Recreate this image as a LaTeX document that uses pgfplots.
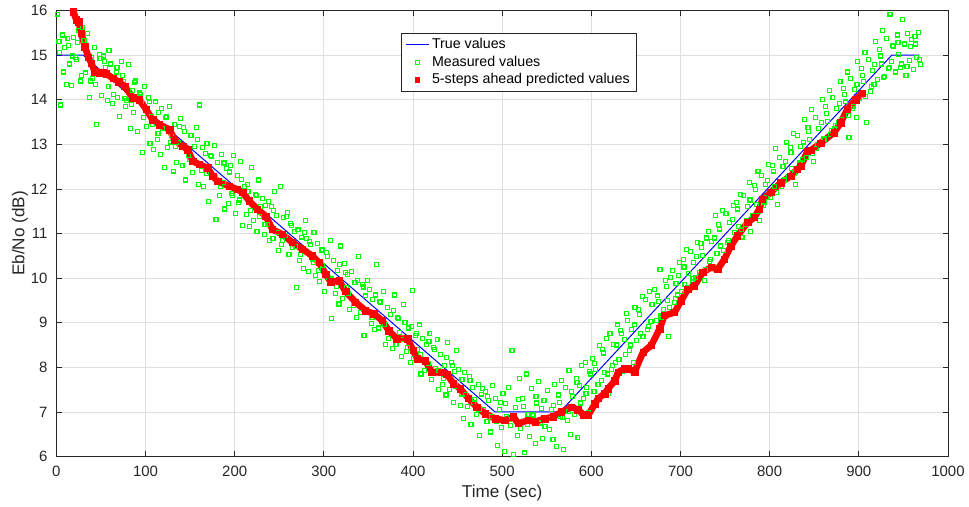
\documentclass[border=0pt]{standalone}
\usepackage{pgfplots}
\pgfplotsset{compat=1.18}
\usepackage{fontspec}
\setmainfont{Liberation Sans}
\definecolor{axgray}{RGB}{38,38,38}
\definecolor{gridgray}{RGB}{223,223,223}
\definecolor{mgreen}{RGB}{0,255,0}
\begin{document}
\begin{tikzpicture}
\begin{axis}[
  scale only axis, width=670.9pt, height=335.6pt,
  xmin=0, xmax=1000, ymin=6, ymax=16,
  xtick={0,100,...,1000}, ytick={6,7,...,16},
  grid=major, major grid style={gridgray, line width=0.5pt},
  axis line style={axgray, line width=0.6pt},
  tick style={axgray, line width=0.6pt},
  tick align=inside, major tick length=4pt,
  ticklabel style={font=\fontsize{11.25}{13}\selectfont, text=axgray},
  /pgf/number format/assume math mode=true,
  /pgf/number format/1000 sep={},
  xticklabel style={yshift=-3.5pt},
  yticklabel style={xshift=-3.2pt},
  xlabel={Time (sec)}, ylabel={Eb/No (dB)},
  label style={font=\fontsize{12.9}{15}\selectfont, text=axgray},
  x label style={at={(axis description cs:0.5,-0.0827)}, anchor=center},
  y label style={at={(axis description cs:-0.0408,0.5)}, anchor=center},
  legend style={at={(0.387,0.95)}, anchor=north west,
    font=\fontsize{10.7}{12}\selectfont, draw=axgray, line width=0.5pt,
    fill=white, text=black},
  legend cell align=left,
]
% True values
\addplot[blue, line width=0.75pt] coordinates {
(0,15) (30,15) (492,7) (565,7) (937,15) (968,15)
};
\addlegendentry{True values}
% Measured values
\addplot[only marks, mark=square, mark size=1.5pt, color=mgreen,
  mark options={draw=mgreen, fill=none, solid, line width=0.85pt}] table {
1 15.92
3 15.30
5 13.88
7 15.45
9 15.18
11 14.35
13 15.38
15 14.80
17 14.32
19 15.40
21 14.95
23 14.90
25 15.55
27 14.42
29 15.62
31 15.32
33 14.60
35 15.48
37 14.05
39 14.95
41 14.48
43 15.18
45 13.45
47 14.62
49 14.93
51 14.10
53 14.98
55 14.72
57 13.98
59 15.10
61 14.80
63 13.92
65 14.45
67 14.62
69 14.05
71 13.62
73 14.85
75 14.40
77 14.02
79 13.98
81 14.78
83 13.35
85 14.20
87 13.72
89 14.42
91 13.28
93 14.15
95 13.95
97 12.82
99 14.30
101 13.40
103 14.05
105 13.02
107 13.62
109 12.88
111 13.95
113 13.10
115 13.72
117 12.78
119 13.35
121 12.48
123 13.60
125 12.92
127 13.85
129 13.20
131 12.40
133 13.45
135 12.60
137 13.05
139 13.58
141 12.52
143 13.38
145 12.20
147 12.88
149 12.65
151 13.20
153 12.36
155 12.95
157 13.38
159 12.10
161 13.88
163 12.42
165 12.05
167 12.80
169 13.02
171 11.72
173 12.75
175 12.30
177 12.98
179 11.32
181 12.60
183 11.85
185 12.78
187 12.15
189 11.55
191 12.45
193 11.68
195 12.52
197 11.90
199 12.75
201 11.45
203 12.30
205 11.75
207 12.62
209 11.18
211 12.05
213 11.42
215 11.95
217 11.15
219 12.48
221 11.30
223 11.88
225 11.05
227 12.20
229 11.60
231 11.78
233 10.98
235 11.62
237 11.20
239 10.85
241 11.60
243 10.88
245 11.95
247 11.40
249 10.62
251 12.05
253 10.75
255 11.35
257 10.95
259 11.48
261 10.52
263 11.22
265 10.68
267 11.05
269 9.78
271 11.08
273 10.40
275 10.92
277 10.22
279 11.30
281 10.88
283 10.15
285 10.75
287 10.42
289 11.02
291 10.05
293 10.78
295 9.92
297 10.62
299 10.28
301 9.70
303 10.58
305 10.02
307 10.85
309 9.10
311 10.40
313 9.65
315 10.18
317 9.42
319 10.72
321 9.55
323 10.32
325 9.78
327 10.08
329 9.30
331 10.15
333 9.38
335 9.90
337 9.12
339 10.48
341 9.22
343 9.85
345 8.72
347 9.60
349 9.95
351 9.75
353 8.98
355 9.52
357 8.85
359 10.30
361 8.88
363 9.48
365 9.05
367 9.70
369 8.52
371 9.35
373 8.65
375 9.18
377 8.42
379 9.62
381 8.52
383 9.12
385 8.78
387 8.25
389 9.40
391 9.00
393 8.35
395 8.88
397 8.10
399 9.72
401 8.20
403 8.72
405 8.40
407 8.95
409 7.85
411 8.65
413 7.92
415 8.52
417 8.08
419 8.75
421 7.72
423 8.45
425 7.98
427 8.62
429 7.50
431 8.28
433 7.62
435 8.05
437 7.38
439 8.55
441 7.50
443 8.10
445 7.22
447 7.90
449 8.38
451 7.95
453 7.15
455 7.72
457 6.85
459 7.40
461 7.12
463 7.80
465 6.72
467 7.55
469 7.28
471 6.95
473 7.62
475 6.48
477 7.40
479 7.05
481 7.45
483 6.78
485 7.25
487 6.55
489 7.60
491 6.82
493 7.30
495 6.25
497 7.05
499 6.65
501 7.42
503 6.12
505 6.90
507 7.55
509 6.70
511 8.38
513 6.05
515 7.10
517 6.48
519 7.75
521 6.62
523 7.30
525 6.08
527 7.85
529 6.95
531 6.45
533 7.52
535 6.92
537 6.30
539 7.20
541 7.68
543 6.75
545 6.40
547 7.25
549 6.85
551 7.48
553 6.60
555 7.05
557 6.38
559 7.62
561 6.22
563 7.38
565 6.90
567 7.70
569 6.15
571 7.55
573 6.80
575 7.92
577 6.50
579 7.35
581 6.95
583 7.75
585 6.42
587 7.60
589 8.05
591 7.30
593 8.10
595 7.55
597 6.98
599 7.85
601 8.20
603 7.45
605 7.95
607 7.62
609 8.48
611 7.70
613 8.40
615 7.88
617 8.65
619 7.42
621 8.75
623 7.95
625 8.52
627 8.10
629 8.95
631 8.18
633 8.82
635 7.90
637 8.62
639 9.20
641 9.05
643 8.38
645 8.85
647 8.10
649 9.35
651 8.60
653 9.30
655 8.75
657 9.58
659 8.32
661 9.52
663 8.85
665 9.70
667 9.02
669 8.50
671 9.75
673 9.05
675 9.48
677 10.20
679 9.12
681 9.30
683 9.95
685 9.50
687 8.70
689 10.02
691 10.18
693 9.45
695 9.88
697 9.62
699 10.35
701 9.70
703 10.42
705 9.85
707 10.65
709 10.10
711 10.60
713 9.92
715 10.35
717 10.02
719 10.80
721 10.12
723 10.78
725 10.50
727 9.95
729 10.90
731 11.05
733 10.38
735 10.82
737 10.25
739 11.40
741 10.55
743 11.20
745 10.72
747 11.52
749 10.40
751 11.45
753 10.80
755 11.25
757 10.68
759 11.62
761 11.02
763 11.70
765 11.15
767 11.88
769 10.92
771 11.85
773 11.20
775 11.60
777 12.15
779 11.05
781 11.40
783 12.08
785 11.65
787 12.40
789 11.30
791 12.30
793 11.62
795 12.10
797 11.80
799 12.55
801 11.80
803 12.52
805 12.05
807 12.90
809 11.65
811 12.70
813 12.05
815 12.50
817 12.20
819 13.05
821 12.28
823 12.92
825 12.45
827 13.25
829 12.10
831 13.20
833 12.48
835 12.95
837 12.65
839 13.55
841 12.70
843 13.38
845 13.10
847 13.78
849 12.62
851 13.60
853 12.90
855 13.35
857 13.05
859 14.00
861 13.12
863 13.85
865 13.52
867 14.20
869 13.30
871 14.05
873 13.35
875 13.80
877 13.48
879 14.40
881 13.55
883 14.25
885 13.95
887 14.62
889 13.15
891 14.48
893 13.80
895 14.22
897 13.60
899 14.85
901 14.02
903 14.70
905 14.40
907 15.05
909 13.48
911 14.90
913 14.18
915 14.65
917 14.35
919 15.30
921 14.45
923 15.12
925 14.80
927 15.55
929 14.52
931 15.38
933 14.70
935 15.92
937 14.85
939 15.20
941 14.62
943 15.45
945 15.02
947 14.72
949 15.80
951 15.25
953 14.55
955 15.48
957 14.88
959 15.35
961 14.68
963 15.42
965 14.95
967 15.50
969 14.78
4 15.05
8 14.62
14 15.22
18 14.98
24 15.28
28 14.55
34 15.15
38 14.42
44 14.35
48 15.02
54 14.85
58 14.30
64 14.12
68 14.72
74 14.55
78 13.85
84 13.90
88 14.38
94 14.12
98 13.60
104 13.95
108 13.45
114 13.25
118 13.80
124 13.62
128 13.05
134 12.95
138 13.40
144 13.28
148 12.75
154 12.60
158 13.10
164 12.92
168 12.35
174 12.72
178 12.25
184 12.05
188 12.58
194 12.38
198 11.85
204 11.70
208 12.22
214 12.10
218 11.52
224 11.85
228 11.38
234 11.20
238 11.72
244 11.52
248 11.02
254 10.85
258 11.38
264 11.18
268 10.70
274 10.52
278 11.02
284 10.82
288 10.35
294 10.18
298 10.65
304 10.48
308 9.98
314 9.82
318 10.30
324 10.12
328 9.65
334 9.48
338 9.95
344 9.80
348 9.30
354 9.12
358 9.62
364 9.45
368 8.95
374 8.80
378 9.28
384 9.10
388 8.62
394 8.45
398 8.92
404 8.75
408 8.28
414 8.10
418 8.58
424 8.40
428 7.92
434 7.75
438 8.22
444 8.05
448 7.58
454 7.40
458 7.88
464 7.70
468 7.22
474 7.05
478 7.52
484 7.35
488 6.90
494 6.78
498 7.22
504 7.18
508 6.82
514 6.88
518 7.28
524 7.12
528 6.72
534 6.95
538 7.35
544 7.08
548 6.68
554 6.85
558 7.15
564 7.22
568 6.88
574 7.00
578 7.45
584 7.65
588 7.20
594 7.42
598 7.90
604 8.08
608 7.62
614 8.32
618 7.85
624 8.05
628 8.50
634 8.75
638 8.28
644 8.50
648 8.95
654 9.18
658 8.70
664 8.92
668 9.40
674 9.60
678 9.15
684 9.82
688 9.35
694 9.55
698 10.05
704 10.25
708 9.78
714 10.00
718 10.48
724 10.68
728 10.20
734 10.42
738 10.90
744 11.10
748 10.62
754 10.85
758 11.32
764 11.55
768 11.08
774 11.28
778 11.75
784 11.98
788 11.50
794 11.70
798 12.18
804 12.40
808 11.92
814 12.15
818 12.62
824 12.82
828 12.35
834 12.58
838 13.05
844 13.28
848 12.80
854 13.00
858 13.48
864 13.70
868 13.22
874 13.42
878 13.92
884 14.12
888 13.65
894 13.85
898 14.35
904 14.55
908 14.08
914 14.30
918 14.78
924 14.98
928 14.50
934 14.72
938 15.22
944 15.28
948 14.80
954 14.75
958 15.20
964 15.25
968 14.90
};
\addlegendentry{Measured values}
% Predicted values: thick line (no legend) + square marks
\addplot[red, line width=5pt, line join=round, forget plot] table {
16 16.25
19 15.97
22.5 15.79
25 15.75
28 15.49
32 15.19
36 14.95
39.3 14.82
43 14.63
48 14.60
52 14.62
56 14.58
63.5 14.48
70 14.40
76.6 14.30
85.9 14.04
93 14.00
100.8 13.78
108 13.55
115.7 13.44
127 13.33
132.5 13.10
141.8 12.96
147.4 12.88
153 12.62
160.4 12.55
169.7 12.47
175.3 12.29
181 12.17
194 12.06
203 11.99
209 11.92
216.3 11.73
225.6 11.54
235 11.39
242.4 11.09
253.6 10.98
264.7 10.80
276 10.65
287 10.50
294.6 10.35
302 10.09
307.7 9.92
317 9.94
324.4 9.70
335.6 9.46
346.8 9.27
356 9.20
365.4 9.05
372.8 8.82
382 8.64
394 8.64
400 8.38
405 8.19
413.9 8.15
421 7.89
432 7.89
438 7.85
445.5 7.63
453 7.52
462.3 7.30
471.5 7.11
481 6.96
492 6.85
503 6.81
512.6 6.89
518 6.74
529.3 6.81
536.8 6.78
548 6.85
557.3 6.89
566.6 7.00
577.8 7.11
585 7.05
591 6.94
596.4 6.92
604 7.18
607.6 7.30
615 7.41
618.8 7.52
626.3 7.70
630 7.89
637.5 7.97
641 7.97
648.6 7.90
658 8.34
667.2 8.49
676.6 8.86
682 9.16
693.3 9.23
700.7 9.49
708.2 9.75
715.7 9.83
725 10.13
734.3 10.24
741.8 10.20
749.2 10.42
756.6 10.72
764 10.95
775.3 11.25
782.8 11.36
788.4 11.54
792 11.77
801.3 11.92
812.5 12.14
823.7 12.29
831 12.44
835 12.51
842.4 12.84
846 12.86
857.2 13.03
872.2 13.26
879.6 13.48
887 13.78
896.4 14.00
903.8 14.15
};
\addplot[only marks, mark=square*, mark size=2.4pt, red, mark options={draw=red, fill=red},
  legend image code/.code={\fill[red] (0.3cm,0cm) ++(-1.6pt,-1.6pt) rectangle ++(3.2pt,3.2pt);}] table {
19 15.97
22.5 15.79
25 15.75
28 15.49
32 15.19
36 14.95
39.3 14.82
43 14.63
48 14.60
52 14.62
56 14.58
63.5 14.48
70 14.40
76.6 14.30
85.9 14.04
93 14.00
100.8 13.78
108 13.55
115.7 13.44
127 13.33
132.5 13.10
141.8 12.96
147.4 12.88
153 12.62
160.4 12.55
169.7 12.47
175.3 12.29
181 12.17
194 12.06
203 11.99
209 11.92
216.3 11.73
225.6 11.54
235 11.39
242.4 11.09
253.6 10.98
264.7 10.80
276 10.65
287 10.50
294.6 10.35
302 10.09
307.7 9.92
317 9.94
324.4 9.70
335.6 9.46
346.8 9.27
356 9.20
365.4 9.05
372.8 8.82
382 8.64
394 8.64
400 8.38
405 8.19
413.9 8.15
421 7.89
432 7.89
438 7.85
445.5 7.63
453 7.52
462.3 7.30
471.5 7.11
481 6.96
492 6.85
503 6.81
512.6 6.89
518 6.74
529.3 6.81
536.8 6.78
548 6.85
557.3 6.89
566.6 7.00
577.8 7.11
585 7.05
591 6.94
596.4 6.92
604 7.18
607.6 7.30
615 7.41
618.8 7.52
626.3 7.70
630 7.89
637.5 7.97
641 7.97
648.6 7.90
658 8.34
667.2 8.49
676.6 8.86
682 9.16
693.3 9.23
700.7 9.49
708.2 9.75
715.7 9.83
725 10.13
734.3 10.24
741.8 10.20
749.2 10.42
756.6 10.72
764 10.95
775.3 11.25
782.8 11.36
788.4 11.54
792 11.77
801.3 11.92
812.5 12.14
823.7 12.29
831 12.44
835 12.51
842.4 12.84
846 12.86
857.2 13.03
872.2 13.26
879.6 13.48
887 13.78
896.4 14.00
903.8 14.15
};
\addlegendentry{5-steps ahead predicted values}
\end{axis}
\path (current axis.south west) ++(-42.4pt,-37.5pt) coordinate (bbA);
\path (current axis.north east) ++(13.5pt,7.9pt) coordinate (bbB);
\path (bbA) rectangle (bbB);
\end{tikzpicture}
\end{document}
